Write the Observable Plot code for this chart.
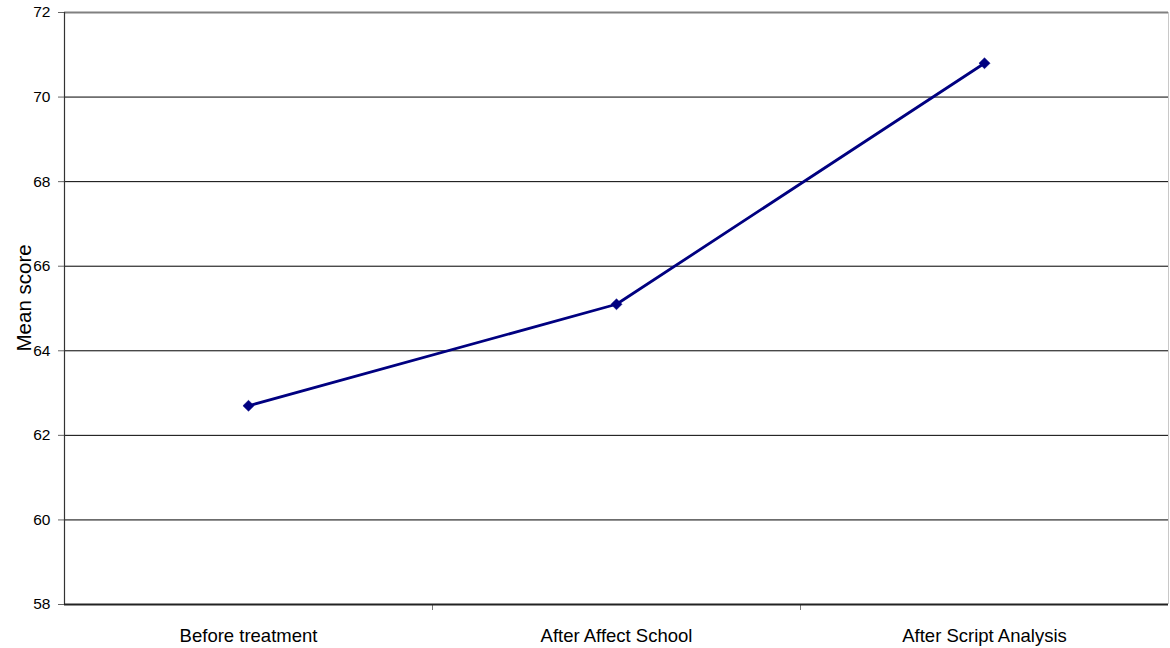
<!DOCTYPE html>
<html>
<head>
<meta charset="utf-8">
<script src="https://cdn.jsdelivr.net/npm/d3@7"></script>
<script src="https://cdn.jsdelivr.net/npm/@observablehq/plot@0.6"></script>
<style>
  html, body { margin: 0; padding: 0; background: #fff; }
  #chart svg { display: block; }
</style>
</head>
<body>
<div id="chart"></div>
<script>
// Mean score at each stage of the treatment
const categories = ["Before treatment", "After Affect School", "After Script Analysis"];
const meanScores = [62.7, 65.1, 70.8];
const yTicks = [58, 60, 62, 64, 66, 68, 70, 72];
const yTitle = "Mean score";

// Each stage sits in the middle of its own slot on a 0..n index axis
const data = categories.map((name, i) => ({name, slot: i + 0.5, score: meanScores[i]}));
const slotCenters = data.map(d => d.slot);
const slotBounds = d3.range(1, categories.length);

const font = "'Liberation Sans', Arial, sans-serif";
const navy = "#000080";

const chart = Plot.plot({
  width: 1170,
  height: 648,
  marginLeft: 64,
  marginRight: 2,
  marginTop: 12,
  marginBottom: 44,
  style: {fontFamily: font, color: "#000", background: "#fff"},
  x: {domain: [0, categories.length], axis: null},
  y: {domain: [58, 72], axis: null},
  marks: [
    // horizontal gridlines
    Plot.ruleY(yTicks.filter(v => v > 58 && v < 72), {stroke: "#000", strokeWidth: 1}),
    Plot.ruleY([72], {stroke: "#808080", strokeWidth: 2}),
    Plot.ruleX([categories.length], {stroke: "#c8c8c8", strokeWidth: 1}),
    // y axis
    Plot.axisY({
      ticks: yTicks, tickSize: 6, tickPadding: 8, fontSize: 15.5,
      tickFormat: d => String(d), stroke: "#666", label: null
    }),
    Plot.ruleX([0], {stroke: "#333", strokeWidth: 1.2}),
    // x axis: boundary ticks between stages, labels at slot centres
    Plot.axisX({ticks: slotBounds, tickSize: 6, tickFormat: () => "", stroke: "#777", label: null}),
    Plot.axisX({
      ticks: slotCenters, tickSize: 0, tickPadding: 24, fontSize: 18.5,
      tickFormat: d => categories[Math.floor(d)], label: null
    }),
    Plot.ruleY([58], {stroke: "#222", strokeWidth: 2}),
    // y title, centred a little above the middle of the frame
    Plot.text([yTitle], {
      x: 0, y: () => 65.25, dx: -40, rotate: -90, fontSize: 20.5,
      textAnchor: "middle", text: d => d, fill: "#000"
    }),
    // series
    Plot.line(data, {x: "slot", y: "score", stroke: navy, strokeWidth: 2.8}),
    Plot.dot(data, {x: "slot", y: "score", symbol: "diamond2", r: 5, fill: navy, stroke: navy, strokeWidth: 0.5})
  ]
});

document.getElementById("chart").append(chart);
</script>
</body>
</html>
